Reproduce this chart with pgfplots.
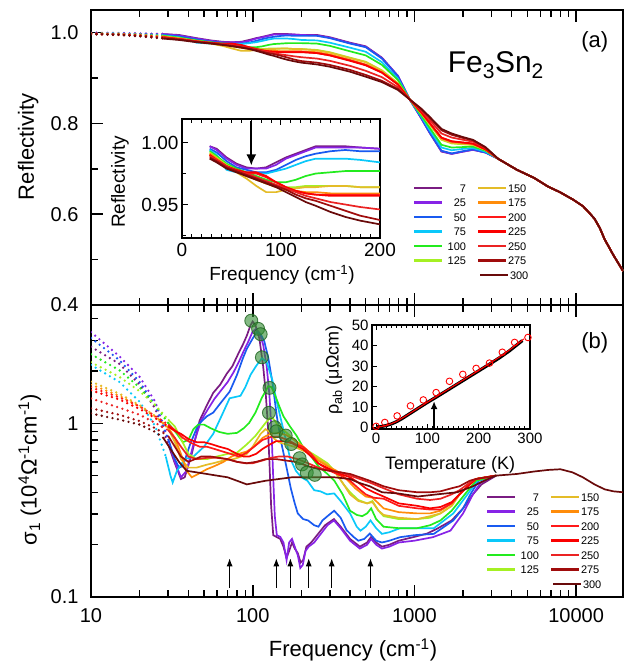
\documentclass[border=0pt]{standalone}
\usepackage{fontspec}
\setmainfont{Liberation Sans}
\usepackage{pgfplots}
\usepackage{pgfplotstable}
\pgfplotsset{compat=1.18}
\usetikzlibrary{arrows.meta}

\definecolor{c7}{RGB}{122,28,130}
\definecolor{c25}{RGB}{135,35,230}
\definecolor{c50}{RGB}{25,90,240}
\definecolor{c75}{RGB}{10,200,250}
\definecolor{c100}{RGB}{35,235,30}
\definecolor{c125}{RGB}{165,240,35}
\definecolor{c150}{RGB}{228,188,40}
\definecolor{c175}{RGB}{255,140,10}
\definecolor{c200}{RGB}{255,25,25}
\definecolor{c225}{RGB}{250,0,0}
\definecolor{c250}{RGB}{235,35,35}
\definecolor{c275}{RGB}{160,12,12}
\definecolor{c300}{RGB}{105,10,10}
\definecolor{cfill}{RGB}{50,140,50}
\definecolor{cedge}{RGB}{30,100,30}

\pgfplotstableread{
f T7 T25 T50 T75 T100 T125 T150 T175 T200 T225 T250 T275 T300
28 0.997 0.997 0.995 0.994 0.993 0.992 0.991 0.991 0.990 0.990 0.989 0.988 0.987
35 0.995 0.994 0.992 0.990 0.989 0.988 0.987 0.987 0.986 0.986 0.986 0.985 0.984
45 0.988 0.987 0.985 0.978 0.983 0.982 0.981 0.981 0.981 0.981 0.981 0.980 0.979
55 0.983 0.982 0.980 0.976 0.979 0.978 0.976 0.977 0.977 0.978 0.977 0.977 0.976
65 0.980 0.979 0.978 0.976 0.976 0.974 0.971 0.973 0.975 0.976 0.975 0.974 0.973
75 0.979 0.979 0.976 0.975 0.973 0.970 0.965 0.970 0.975 0.976 0.972 0.971 0.970
85 0.980 0.979 0.976 0.975 0.970 0.967 0.960 0.967 0.972 0.973 0.969 0.968 0.967
95 0.984 0.982 0.978 0.977 0.968 0.965 0.960 0.964 0.968 0.968 0.966 0.965 0.964
105 0.988 0.987 0.982 0.979 0.968 0.964 0.962 0.962 0.964 0.964 0.963 0.962 0.960
115 0.991 0.990 0.986 0.982 0.970 0.964 0.963 0.961 0.961 0.961 0.960 0.958 0.956
125 0.994 0.993 0.989 0.985 0.973 0.965 0.964 0.960 0.959 0.959 0.957 0.955 0.952
135 0.997 0.996 0.991 0.987 0.975 0.965 0.964 0.960 0.958 0.958 0.955 0.953 0.949
150 0.997 0.996 0.993 0.987 0.976 0.965 0.965 0.959 0.958 0.957 0.952 0.949 0.944
165 0.997 0.996 0.994 0.987 0.977 0.965 0.965 0.959 0.958 0.957 0.950 0.945 0.940
180 0.996 0.996 0.993 0.986 0.977 0.964 0.964 0.959 0.958 0.957 0.948 0.941 0.937
200 0.995 0.995 0.993 0.984 0.977 0.964 0.964 0.959 0.958 0.957 0.946 0.9375 0.934
250 0.995 0.994 0.993 0.983 0.976 0.962 0.961 0.957 0.955 0.955 0.943 0.934 0.930
300 0.990 0.989 0.988 0.978 0.971 0.957 0.956 0.952 0.950 0.950 0.938 0.929 0.925
400 0.978 0.977 0.976 0.967 0.959 0.945 0.944 0.940 0.939 0.938 0.927 0.918 0.914
500 0.970 0.969 0.968 0.958 0.950 0.936 0.935 0.930 0.929 0.928 0.916 0.907 0.903
630 0.945 0.944 0.943 0.935 0.929 0.917 0.916 0.913 0.912 0.912 0.902 0.894 0.891
790 0.905 0.905 0.904 0.899 0.896 0.889 0.888 0.887 0.886 0.886 0.880 0.876 0.874
935 0.853 0.853 0.853 0.853 0.853 0.853 0.853 0.853 0.853 0.853 0.853 0.853 0.853
1100 0.812 0.812 0.813 0.816 0.818 0.823 0.823 0.824 0.825 0.825 0.829 0.832 0.833
1240 0.780 0.780 0.781 0.786 0.791 0.798 0.799 0.801 0.801 0.802 0.808 0.813 0.815
1470 0.738 0.739 0.740 0.747 0.753 0.764 0.765 0.768 0.768 0.769 0.778 0.785 0.788
1700 0.733 0.733 0.734 0.741 0.747 0.756 0.757 0.760 0.760 0.761 0.769 0.775 0.778
2000 0.738 0.738 0.739 0.744 0.748 0.754 0.755 0.757 0.758 0.758 0.764 0.768 0.770
2300 0.742 0.742 0.743 0.746 0.749 0.753 0.753 0.755 0.755 0.756 0.760 0.763 0.764
2750 0.736 0.736 0.736 0.738 0.740 0.742 0.742 0.743 0.743 0.743 0.746 0.747 0.748
3300 0.722 0.722 0.722 0.722 0.722 0.722 0.722 0.722 0.722 0.722 0.722 0.722 0.722
4300 0.698 0.698 0.698 0.698 0.698 0.698 0.698 0.698 0.698 0.698 0.698 0.698 0.698
5500 0.680 0.680 0.680 0.680 0.680 0.680 0.680 0.680 0.680 0.680 0.680 0.680 0.680
6700 0.661 0.661 0.661 0.661 0.661 0.661 0.661 0.661 0.661 0.661 0.661 0.661 0.661
8000 0.648 0.648 0.648 0.648 0.648 0.648 0.648 0.648 0.648 0.648 0.648 0.648 0.648
9600 0.632 0.632 0.632 0.632 0.632 0.632 0.632 0.632 0.632 0.632 0.632 0.632 0.632
11000 0.618 0.618 0.618 0.618 0.618 0.618 0.618 0.618 0.618 0.618 0.618 0.618 0.618
12000 0.604 0.604 0.604 0.604 0.604 0.604 0.604 0.604 0.604 0.604 0.604 0.604 0.604
13000 0.590 0.590 0.590 0.590 0.590 0.590 0.590 0.590 0.590 0.590 0.590 0.590 0.590
14000 0.570 0.570 0.570 0.570 0.570 0.570 0.570 0.570 0.570 0.570 0.570 0.570 0.570
15000 0.545 0.545 0.545 0.545 0.545 0.545 0.545 0.545 0.545 0.545 0.545 0.545 0.545
17000 0.510 0.510 0.510 0.510 0.510 0.510 0.510 0.510 0.510 0.510 0.510 0.510 0.510
19500 0.475 0.475 0.475 0.475 0.475 0.475 0.475 0.475 0.475 0.475 0.475 0.475 0.475
}\tabA

\pgfplotstableread{
f s
30 0.757
33 0.589
36 0.478
38 0.489
42 0.667
47 1.039
52 1.268
57 1.498
63 1.672
69 1.927
75 2.138
81 2.490
87 2.843
92 3.200
97 3.675
100 3.855
104 3.675
110 3.082
116 2.138
120 1.556
124 0.983
127 0.589
130 0.335
134 0.227
140 0.222
148 0.216
155 0.195
162 0.168
168 0.184
175 0.206
182 0.190
190 0.179
198 0.158
205 0.163
215 0.195
230 0.206
250 0.227
280 0.259
318 0.281
350 0.254
400 0.216
460 0.195
510 0.206
540 0.222
580 0.206
630 0.195
700 0.200
800 0.211
1000 0.222
1200 0.232
1400 0.249
1700 0.276
2000 0.324
2300 0.390
2600 0.445
3200 0.500
}\bA

\pgfplotstableread{
f s
30 0.813
33 0.600
36 0.489
39 0.533
43 0.757
48 1.039
53 1.211
58 1.383
64 1.556
70 1.729
76 1.962
82 2.254
88 2.608
94 2.962
100 3.379
105 3.498
110 3.319
116 2.843
122 2.138
127 1.440
131 0.870
134 0.478
137 0.292
141 0.227
148 0.222
155 0.206
162 0.163
168 0.206
175 0.216
182 0.195
190 0.174
197 0.147
204 0.153
212 0.184
222 0.195
240 0.206
260 0.227
290 0.259
318 0.276
350 0.249
400 0.211
460 0.190
510 0.200
540 0.216
580 0.200
630 0.190
700 0.195
800 0.206
1000 0.211
1300 0.221
1670 0.241
2000 0.303
2300 0.390
2570 0.456
3200 0.500
}\bB

\pgfplotstableread{
f s
30 0.813
33 0.622
35 0.556
37 0.567
41 0.757
46 0.983
52 1.097
57 1.153
64 1.326
72 1.521
80 1.904
87 2.372
92 2.690
100 3.082
106 3.355
112 3.259
118 2.962
125 2.372
133 1.672
141 1.097
150 0.779
162 0.556
172 0.423
182 0.346
190 0.303
205 0.281
220 0.276
240 0.259
255 0.254
270 0.276
290 0.292
319 0.314
350 0.286
380 0.243
420 0.222
450 0.211
490 0.216
530 0.232
580 0.211
630 0.206
700 0.211
815 0.221
1000 0.227
1320 0.231
1740 0.276
2000 0.324
2220 0.390
2500 0.467
3200 0.500
}\bC

\pgfplotstableread{
f s
29 0.644
31 0.500
32 0.456
34 0.533
38 0.622
43 0.644
50 0.734
57 0.870
64 1.097
72 1.394
78 1.418
84 1.440
90 1.614
97 1.904
105 2.138
114 2.372
122 2.254
132 1.788
141 1.326
150 1.039
160 0.813
170 0.633
185 0.533
200 0.489
218 0.467
240 0.412
262 0.406
288 0.390
319 0.395
350 0.357
400 0.303
440 0.254
464 0.241
500 0.254
535 0.276
580 0.249
630 0.231
700 0.236
815 0.249
1000 0.249
1320 0.249
1740 0.303
2130 0.390
2450 0.467
3200 0.500
}\bD

\pgfplotstableread{
f s
30 1.005
34 0.870
37 0.779
40 0.802
43 0.926
46 0.983
50 0.983
55 0.937
62 0.892
70 0.870
80 0.881
88 0.937
95 1.005
104 1.153
114 1.406
125 1.637
131 1.614
138 1.440
147 1.234
155 1.097
170 0.960
187 0.847
204 0.734
230 0.644
254 0.567
290 0.511
320 0.467
360 0.390
400 0.314
440 0.297
475 0.292
510 0.303
540 0.324
580 0.281
645 0.254
800 0.249
1040 0.249
1250 0.259
1450 0.276
1700 0.314
1900 0.357
2200 0.423
2400 0.467
3200 0.500
}\bE

\pgfplotstableread{
f s
30 1.051
33 0.960
36 0.813
40 0.667
45 0.622
52 0.622
60 0.644
70 0.667
80 0.678
92 0.757
104 0.847
112 0.926
120 1.005
128 1.074
134 1.062
140 1.005
148 0.949
165 0.870
187 0.779
210 0.712
250 0.644
290 0.589
320 0.533
365 0.445
400 0.401
450 0.362
510 0.346
550 0.357
600 0.314
645 0.292
800 0.281
1040 0.281
1250 0.286
1450 0.303
1700 0.335
1900 0.390
2200 0.445
2400 0.478
3200 0.500
}\bF

\pgfplotstableread{
f s
30 0.937
33 0.779
36 0.622
40 0.556
45 0.556
52 0.578
57 0.589
66 0.611
76 0.622
85 0.644
92 0.667
100 0.734
106 0.802
112 0.870
120 0.926
127 0.892
134 0.824
145 0.779
160 0.757
180 0.734
210 0.689
250 0.633
290 0.578
330 0.511
365 0.445
400 0.390
450 0.357
510 0.346
550 0.352
600 0.314
645 0.297
800 0.286
1040 0.281
1250 0.292
1450 0.303
1700 0.335
1900 0.390
2200 0.445
2400 0.478
3200 0.500
}\bG

\pgfplotstableread{
f s
30 0.949
33 0.824
36 0.667
39 0.533
42 0.489
46 0.511
52 0.544
58 0.567
66 0.600
74 0.644
82 0.667
92 0.689
102 0.734
115 0.824
128 0.870
145 0.881
160 0.858
182 0.802
210 0.723
254 0.611
290 0.567
330 0.533
380 0.478
430 0.423
500 0.379
550 0.373
600 0.346
645 0.324
800 0.308
1040 0.303
1250 0.303
1450 0.314
1700 0.346
1900 0.390
2200 0.445
2400 0.478
3200 0.500
}\bH

\pgfplotstableread{
f s
30 0.983
33 0.915
37 0.824
42 0.768
47 0.734
52 0.734
58 0.712
65 0.689
73 0.667
82 0.644
92 0.678
102 0.734
115 0.802
130 0.836
145 0.836
165 0.802
185 0.757
204 0.734
230 0.667
254 0.589
300 0.533
350 0.500
400 0.467
450 0.423
500 0.390
560 0.373
645 0.368
800 0.335
1040 0.324
1250 0.319
1450 0.319
1700 0.346
1900 0.390
2200 0.445
2400 0.478
3200 0.500
}\bI

\pgfplotstableread{
f s
30 0.960
33 0.903
36 0.870
40 0.813
45 0.779
50 0.779
56 0.757
62 0.734
70 0.712
80 0.667
88 0.644
95 0.644
105 0.667
115 0.712
128 0.757
140 0.790
155 0.790
175 0.768
204 0.712
230 0.644
254 0.589
300 0.544
350 0.511
400 0.489
450 0.456
500 0.423
560 0.401
645 0.379
800 0.346
1040 0.335
1250 0.324
1450 0.330
1700 0.352
1900 0.390
2200 0.445
2400 0.478
3200 0.500
}\bJ

\pgfplotstableread{
f s
30 0.915
33 0.824
36 0.734
40 0.644
45 0.622
52 0.633
60 0.633
70 0.622
80 0.600
90 0.589
100 0.589
115 0.611
130 0.633
145 0.644
165 0.644
190 0.622
220 0.589
254 0.556
300 0.533
350 0.522
400 0.500
460 0.478
530 0.456
645 0.423
800 0.390
1040 0.368
1250 0.362
1450 0.368
1700 0.390
1900 0.412
2200 0.456
2400 0.478
3200 0.500
}\bK

\pgfplotstableread{
f s
30 0.847
33 0.734
36 0.644
40 0.600
44 0.622
48 0.644
55 0.644
62 0.633
70 0.622
80 0.600
92 0.589
105 0.600
120 0.622
140 0.622
160 0.611
185 0.600
220 0.567
260 0.544
300 0.533
350 0.522
400 0.511
460 0.489
530 0.467
645 0.434
800 0.412
1040 0.401
1250 0.401
1450 0.406
1700 0.423
1900 0.434
2200 0.467
2400 0.478
3200 0.500
}\bL

\pgfplotstableread{
f s
28 0.824
31 0.712
35 0.600
39 0.533
45 0.522
52 0.511
60 0.500
70 0.489
80 0.467
92 0.445
105 0.456
120 0.467
145 0.478
175 0.489
204 0.489
250 0.489
320 0.489
400 0.478
450 0.456
530 0.434
630 0.401
790 0.395
1050 0.379
1380 0.390
1840 0.401
2300 0.434
2700 0.467
3200 0.500
}\bM

\pgfplotstableread{
f s
3200 0.500
4300 0.511
5500 0.528
6700 0.539
8000 0.544
9500 0.522
11000 0.489
13000 0.445
15000 0.417
17000 0.406
19500 0.401
}\bTail

\tikzset{
  dl/.style={line width=1.7pt},
  dots/.style={line width=2.6pt, line cap=round, dash pattern=on 0pt off 5.5pt},
  lw/.style={line width=2.6pt},
  lt/.style={font=\fontsize{11}{11}\selectfont, inner sep=0pt, outer sep=0pt},
}

\newcommand{\mylegend}{%
  \draw[c7,lw] (0pt,0pt) -- (28pt,0pt);        \node[lt,anchor=base east] at (52pt,-4pt) {7};
  \draw[c25,lw] (0pt,-14.5pt) -- (28pt,-14.5pt); \node[lt,anchor=base east] at (52pt,-18.5pt) {25};
  \draw[c50,lw] (0pt,-29pt) -- (28pt,-29pt);     \node[lt,anchor=base east] at (52pt,-33pt) {50};
  \draw[c75,lw] (0pt,-43.5pt) -- (28pt,-43.5pt); \node[lt,anchor=base east] at (52pt,-47.5pt) {75};
  \draw[c100,lw] (0pt,-58pt) -- (28pt,-58pt);    \node[lt,anchor=base east] at (52pt,-62pt) {100};
  \draw[c125,lw] (0pt,-72.5pt) -- (28pt,-72.5pt); \node[lt,anchor=base east] at (52pt,-76.5pt) {125};
  \draw[c150,lw] (64pt,0pt) -- (92pt,0pt);        \node[lt,anchor=base west] at (94pt,-4pt) {150};
  \draw[c175,lw] (64pt,-14.5pt) -- (92pt,-14.5pt); \node[lt,anchor=base west] at (94pt,-18.5pt) {175};
  \draw[c200,lw] (64pt,-29pt) -- (92pt,-29pt);     \node[lt,anchor=base west] at (94pt,-33pt) {200};
  \draw[c225,lw] (64pt,-43.5pt) -- (92pt,-43.5pt); \node[lt,anchor=base west] at (94pt,-47.5pt) {225};
  \draw[c250,lw] (64pt,-58pt) -- (92pt,-58pt);     \node[lt,anchor=base west] at (94pt,-62pt) {250};
  \draw[c275,lw] (64pt,-72.5pt) -- (92pt,-72.5pt); \node[lt,anchor=base west] at (94pt,-76.5pt) {275};
  \draw[c300,lw] (66pt,-87pt) -- (94pt,-87pt);     \node[lt,anchor=base west] at (96pt,-91pt) {300};
}

\begin{document}
\begin{tikzpicture}
\useasboundingbox (0pt,0pt) rectangle (626pt,-662pt);

% ================= panel (a) =================
\begin{axis}[
  at={(91pt,-10pt)}, anchor=north west,
  scale only axis, width=532pt, height=295pt,
  xmode=log, xmin=10, xmax=19500,
  ymin=0.4, ymax=1.05,
  tick align=inside, xtick pos=both, ytick pos=left,
  major tick length=12pt, minor tick length=7pt,
  major tick style={black, line width=1.6pt},
  minor tick style={black, line width=1.4pt},
  axis line style={line width=2.4pt},
  xtick={10,100,1000,10000}, xticklabels={},
  minor xtick={20,30,40,50,60,70,80,90,200,300,400,500,600,700,800,900,2000,3000,4000,5000,6000,7000,8000,9000},
  ytick={0.4,0.6,0.8,1.0}, yticklabels={0.4,0.6,0.8,1.0},
  minor ytick={0.5,0.7,0.9},
  tick label style={font=\fontsize{20}{24}\selectfont},
  yticklabel style={xshift=-9pt},
  ylabel={Reflectivity},
  ylabel style={font=\fontsize{22}{26}\selectfont, at={(axis description cs:-0.118,0.536)}, anchor=center},
]
\addplot[c7,dots] coordinates {(10,0.999)(15,0.999)(20,0.998)(28,0.997)};
\addplot[c25,dots] coordinates {(10,1.0)(15,0.999)(20,0.998)(28,0.997)};
\addplot[c50,dots] coordinates {(10,0.999)(15,0.998)(20,0.997)(28,0.995)};
\addplot[c75,dots] coordinates {(10,0.999)(15,0.998)(20,0.996)(28,0.994)};
\addplot[c100,dots] coordinates {(10,0.998)(15,0.997)(20,0.996)(28,0.993)};
\addplot[c125,dots] coordinates {(10,0.998)(15,0.997)(20,0.995)(28,0.992)};
\addplot[c150,dots] coordinates {(10,0.998)(15,0.997)(20,0.995)(28,0.991)};
\addplot[c175,dots] coordinates {(10,0.998)(15,0.996)(20,0.994)(28,0.991)};
\addplot[c200,dots] coordinates {(10,0.998)(15,0.996)(20,0.994)(28,0.990)};
\addplot[c225,dots] coordinates {(10,0.998)(15,0.996)(20,0.994)(28,0.990)};
\addplot[c250,dots] coordinates {(10,0.997)(15,0.996)(20,0.993)(28,0.989)};
\addplot[c275,dots] coordinates {(10,0.997)(15,0.995)(20,0.993)(28,0.988)};
\addplot[c300,dots] coordinates {(10,0.997)(15,0.995)(20,0.992)(28,0.987)};
\addplot[c7,dl] table[x=f,y=T7]{\tabA};
\addplot[c25,dl] table[x=f,y=T25]{\tabA};
\addplot[c50,dl] table[x=f,y=T50]{\tabA};
\addplot[c75,dl] table[x=f,y=T75]{\tabA};
\addplot[c100,dl] table[x=f,y=T100]{\tabA};
\addplot[c125,dl] table[x=f,y=T125]{\tabA};
\addplot[c150,dl] table[x=f,y=T150]{\tabA};
\addplot[c175,dl] table[x=f,y=T175]{\tabA};
\addplot[c200,dl] table[x=f,y=T200]{\tabA};
\addplot[c225,dl] table[x=f,y=T225]{\tabA};
\addplot[c250,dl] table[x=f,y=T250]{\tabA};
\addplot[c275,dl] table[x=f,y=T275]{\tabA};
\addplot[c300,dl] table[x=f,y=T300]{\tabA};
\node[font=\fontsize{22}{26}\selectfont] at (axis description cs:0.947,0.892) {(a)};
\node[font=\fontsize{30}{32}\selectfont] at (axis description cs:0.761,0.814) {Fe\textsubscript{3}Sn\textsubscript{2}};
\end{axis}

% ---------- inset of (a) ----------
\begin{axis}[
  at={(182pt,-119pt)}, anchor=north west, scale only axis,
  width=198pt, height=119pt,
  xmin=0, xmax=200, ymin=0.923, ymax=1.019,
  restrict x to domain=0:260,
  axis background/.style={fill=white},
  tick align=inside, xtick pos=both, ytick pos=left,
  xtick={0,100,200}, xticklabels={0,100,200}, minor x tick num=9,
  ytick={0.95,1.00}, yticklabels={0.95,1.00}, minor ytick={0.925,0.975},
  major tick length=6pt, minor tick length=3.5pt,
  major tick style={black, line width=1pt}, minor tick style={black, line width=0.9pt},
  axis line style={line width=1.3pt},
  tick label style={font=\fontsize{19}{22}\selectfont},
  xticklabel style={yshift=-2pt},
  xlabel={Frequency (cm\textsuperscript{-1})},
  xlabel style={font=\fontsize{19}{22}\selectfont, at={(axis description cs:0.505,-0.31)}, anchor=center},
  ylabel={Reflectivity},
  ylabel style={font=\fontsize{19}{22}\selectfont, at={(axis description cs:-0.313,0.47)}, anchor=center},
]
\addplot[c7,dl] table[x=f,y=T7]{\tabA};
\addplot[c25,dl] table[x=f,y=T25]{\tabA};
\addplot[c50,dl] table[x=f,y=T50]{\tabA};
\addplot[c75,dl] table[x=f,y=T75]{\tabA};
\addplot[c100,dl] table[x=f,y=T100]{\tabA};
\addplot[c125,dl] table[x=f,y=T125]{\tabA};
\addplot[c150,dl] table[x=f,y=T150]{\tabA};
\addplot[c175,dl] table[x=f,y=T175]{\tabA};
\addplot[c200,dl] table[x=f,y=T200]{\tabA};
\addplot[c225,dl] table[x=f,y=T225]{\tabA};
\addplot[c250,dl] table[x=f,y=T250]{\tabA};
\addplot[c275,dl] table[x=f,y=T275]{\tabA};
\addplot[c300,dl] table[x=f,y=T300]{\tabA};
\draw[-{Latex[length=11pt,width=10pt]}, line width=2pt] (axis cs:70,1.0175) -- (axis cs:70,0.9815);
\end{axis}

% ================= panel (b) =================
\begin{axis}[
  at={(91pt,-305pt)}, anchor=north west,
  scale only axis, width=532pt, height=292pt,
  xmode=log, ymode=log, xmin=10, xmax=19500, ymin=0.1, ymax=4.8,
  tick align=inside, xtick pos=both, ytick pos=left,
  major tick length=12pt, minor tick length=7pt,
  major tick style={black, line width=1.6pt},
  minor tick style={black, line width=1.4pt},
  axis line style={line width=2.4pt},
  xtick={10,100,1000,10000}, xticklabels={10,100,1000,10000},
  minor xtick={20,30,40,50,60,70,80,90,200,300,400,500,600,700,800,900,2000,3000,4000,5000,6000,7000,8000,9000},
  ytick={0.1,1}, yticklabels={0.1,1},
  minor ytick={0.2,0.3,0.4,0.5,0.6,0.7,0.8,0.9,2,3,4},
  tick label style={font=\fontsize{20}{24}\selectfont},
  xticklabel style={yshift=-8pt},
  yticklabel style={xshift=-9pt},
  xlabel={Frequency (cm\textsuperscript{-1})},
  xlabel style={font=\fontsize{22}{26}\selectfont, at={(axis description cs:0.4925,-0.1815)}, anchor=center},
  ylabel={σ\textsubscript{1} (10\textsuperscript{4}Ω\textsuperscript{-1}cm\textsuperscript{-1})},
  ylabel style={font=\fontsize{22}{26}\selectfont, at={(axis description cs:-0.115,0.435)}, anchor=center},
]
\addplot[c7,dots] coordinates {(10,2.76)(15,2.20)(20,1.67)(25,1.21)(30,0.757)};
\addplot[c25,dots] coordinates {(10,3.35)(15,2.43)(20,1.85)(25,1.33)(30,0.813)};
\addplot[c50,dots] coordinates {(10,3.10)(15,2.31)(20,1.73)(25,1.27)(30,0.813)};
\addplot[c75,dots] coordinates {(10,2.17)(15,1.73)(20,1.33)(25,0.96)(29,0.644)};
\addplot[c100,dots] coordinates {(10,2.50)(15,2.02)(20,1.61)(25,1.27)(30,1.005)};
\addplot[c125,dots] coordinates {(10,2.25)(15,1.85)(20,1.53)(25,1.27)(30,1.051)};
\addplot[c150,dots] coordinates {(10,1.74)(15,1.48)(20,1.27)(25,1.10)(30,0.937)};
\addplot[c175,dots] coordinates {(10,1.67)(15,1.44)(20,1.25)(25,1.09)(30,0.949)};
\addplot[c200,dots] coordinates {(10,1.61)(15,1.41)(20,1.25)(25,1.10)(30,0.983)};
\addplot[c225,dots] coordinates {(10,1.55)(15,1.37)(20,1.21)(25,1.07)(30,0.960)};
\addplot[c250,dots] coordinates {(10,1.39)(15,1.23)(20,1.12)(25,1.005)(30,0.915)};
\addplot[c275,dots] coordinates {(10,1.22)(15,1.12)(20,1.03)(25,0.937)(30,0.847)};
\addplot[c300,dots] coordinates {(10,1.14)(15,1.05)(20,0.983)(25,0.892)(28,0.824)};
\addplot[c7,dl] table[x=f,y=s]{\bA};
\addplot[c25,dl] table[x=f,y=s]{\bB};
\addplot[c50,dl] table[x=f,y=s]{\bC};
\addplot[c75,dl] table[x=f,y=s]{\bD};
\addplot[c100,dl] table[x=f,y=s]{\bE};
\addplot[c125,dl] table[x=f,y=s]{\bF};
\addplot[c150,dl] table[x=f,y=s]{\bG};
\addplot[c175,dl] table[x=f,y=s]{\bH};
\addplot[c200,dl] table[x=f,y=s]{\bI};
\addplot[c225,dl] table[x=f,y=s]{\bJ};
\addplot[c250,dl] table[x=f,y=s]{\bK};
\addplot[c275,dl] table[x=f,y=s]{\bL};
\addplot[c300,dl] table[x=f,y=s]{\bM};
\addplot[c300,dl] table[x=f,y=s]{\bTail};
\addplot[only marks, mark=*, mark size=6.5pt,
  mark options={fill=cfill, fill opacity=0.6, draw=cedge, draw opacity=0.8, line width=0.9pt}]
  coordinates {(98,3.90)(108,3.50)(112,3.26)(114,2.40)(127,1.60)(126,1.15)(137,0.95)(140,0.90)(160,0.85)(173,0.76)(195,0.63)(202,0.58)(216,0.52)(242,0.505)};
\draw[-{Latex[length=8pt,width=6pt]}, line width=1pt] (axis cs:72,0.113) -- (axis cs:72,0.167);
\draw[-{Latex[length=8pt,width=6pt]}, line width=1pt] (axis cs:140,0.113) -- (axis cs:140,0.167);
\draw[-{Latex[length=8pt,width=6pt]}, line width=1pt] (axis cs:171,0.113) -- (axis cs:171,0.167);
\draw[-{Latex[length=8pt,width=6pt]}, line width=1pt] (axis cs:222,0.113) -- (axis cs:222,0.167);
\draw[-{Latex[length=8pt,width=6pt]}, line width=1pt] (axis cs:308,0.113) -- (axis cs:308,0.167);
\draw[-{Latex[length=8pt,width=6pt]}, line width=1pt] (axis cs:535,0.113) -- (axis cs:535,0.167);
\node[font=\fontsize{22}{26}\selectfont] at (axis description cs:0.947,0.87) {(b)};
\end{axis}

% ---------- inset of (b) ----------
\begin{axis}[
  at={(372pt,-325pt)}, anchor=north west, scale only axis,
  width=158pt, height=104pt,
  xmin=-8, xmax=300, ymin=-0.8, ymax=50,
  clip=false,
  tick align=inside, xtick pos=both, ytick pos=left,
  xtick={0,100,200,300}, xticklabels={0,100,200,300}, minor x tick num=9,
  ytick={0,10,20,30,40,50}, yticklabels={0,10,20,30,40,50},
  major tick length=5pt, minor tick length=3pt,
  major tick style={black, line width=0.9pt}, minor tick style={black, line width=0.8pt},
  axis line style={line width=1.2pt},
  tick label style={font=\fontsize{15}{18}\selectfont},
  xlabel={Temperature (K)},
  xlabel style={font=\fontsize{18}{21}\selectfont, at={(axis description cs:0.494,-0.346)}, anchor=center},
  ylabel={ρ\textsubscript{ab} (μΩcm)},
  ylabel style={font=\fontsize{18}{21}\selectfont, at={(axis description cs:-0.24,0.567)}, anchor=center},
]
\addplot[black, line width=3.2pt] coordinates {(0,0.2)(10,0.4)(20,0.9)(30,1.7)(40,2.8)(50,4.2)(60,5.8)(70,7.4)(80,9.0)(90,10.6)(100,12.2)(110,13.7)(120,15.2)(140,18.3)(160,21.4)(180,24.5)(200,27.6)(220,30.7)(240,33.9)(260,37.4)(280,41.4)(285,42.4)};
\addplot[red, line width=1.1pt] coordinates {(0,0)(20,0.8)(40,2.9)(60,5.9)(80,9.1)(100,12.3)(120,15.4)(140,18.5)(160,21.6)(180,24.7)(200,27.8)(220,31.0)(240,34.3)(260,37.8)(280,41.6)(288,43.2)};
\addplot[only marks, mark=o, mark size=3.3pt, red, mark options={line width=0.9pt}] coordinates {(0,0.5)(17,2.4)(41,5.6)(67,10.5)(92,13.4)(117,17)(143,22.5)(169,25.9)(195,28.8)(221,31.4)(246,36.7)(270,41.5)(296,43.9)};
\draw[-{Latex[length=8pt,width=7pt]}, line width=1.6pt] (axis cs:113,-0.5) -- (axis cs:113,12.8);
\end{axis}

% ---------- legends ----------
\begin{scope}[shift={(414pt,-188pt)}]
\mylegend
\end{scope}
\begin{scope}[shift={(487pt,-497pt)}]
\mylegend
\end{scope}
\end{tikzpicture}
\end{document}
